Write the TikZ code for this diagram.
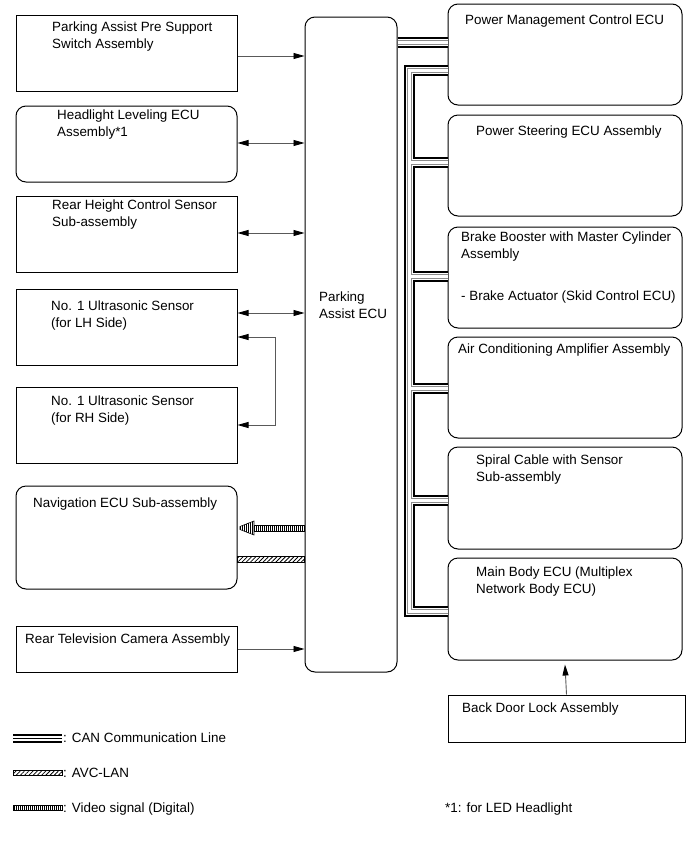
\documentclass[tikz,border=0pt]{standalone}
\usepackage{fontspec}
\setmainfont{Liberation Sans}
\usetikzlibrary{arrows.meta,patterns.meta}
\begin{document}
\begin{tikzpicture}[x=1pt,y=-1pt,
  every node/.style={font=\fontsize{13.4}{16.6}\selectfont},
  sqbox/.style={draw, line width=1pt, inner sep=0pt, minimum width=221pt},
  rbox/.style={sqbox, rounded corners=10pt},
  lbl/.style={anchor=north west, inner sep=0pt, align=left},
  conn/.style={line width=0.9pt, black!65},
  >={Triangle[length=11pt,width=6pt,color=black]},
  vid/.style={line width=0.6pt, pattern={Lines[angle=90,distance=2pt,line width=0.8pt]}},
  avc/.style={line width=0.6pt, pattern={Lines[angle=45,distance=3pt,line width=0.8pt]}},
]
\useasboundingbox (0,0) rectangle (691,855);

% left column
\node[sqbox, minimum height=76pt] (b1) at (126.5,53) {};
\node[rbox, minimum height=76pt] (b2) at (126.5,144) {};
\node[sqbox, minimum height=76pt] (b3) at (126.5,234) {};
\node[sqbox, minimum height=76pt] (b4) at (126.5,327) {};
\node[sqbox, minimum height=76pt] (b5) at (126.5,425) {};
\node[rbox, minimum height=103pt] (nav) at (126.5,537.5) {};
\node[sqbox, minimum height=46pt] (b7) at (126.5,649) {};
% ECU
\node[rbox, minimum width=92pt, minimum height=655pt] (ecu) at (351,344.5) {};
% right column
\node[rbox, minimum width=234pt, minimum height=101pt] (pm) at (565,54.5) {};
\node[rbox, minimum width=234pt, minimum height=101pt] (ps) at (565,165.5) {};
\node[rbox, minimum width=234pt, minimum height=101pt] (bb) at (565,277.5) {};
\node[rbox, minimum width=234pt, minimum height=101pt] (ac) at (565,387.5) {};
\node[rbox, minimum width=234pt, minimum height=102pt] (sc) at (565,498) {};
\node[rbox, minimum width=234pt, minimum height=102pt] (mb) at (565,609) {};
\node[sqbox, minimum width=237pt, minimum height=47pt] (bd) at (566.5,718.5) {};

% texts
\node[lbl] (t1) at (52,22) {Parking Assist Pre Support\\Switch Assembly};
\node[lbl] (t2) at (57,110) {Headlight Leveling ECU\\Assembly*1};
\node[lbl] (t3) at (52,200) {Rear Height Control Sensor\\Sub-assembly};
\node[lbl] (t4) at (51,301) {No. 1 Ultrasonic Sensor\\(for LH Side)};
\node[lbl] (t5) at (51,396) {No. 1 Ultrasonic Sensor\\(for RH Side)};
\node[lbl] (t6) at (33,498) {Navigation ECU Sub-assembly};
\node[lbl] (t7) at (25,634) {Rear Television Camera Assembly};
\node[lbl] (tecu) at (319,292) {Parking\\Assist ECU};
\node[lbl] (tpm) at (465,15) {Power Management Control ECU};
\node[lbl] (tps) at (476,126) {Power Steering ECU Assembly};
\node[lbl] (tbb) at (461,232) {Brake Booster with Master Cylinder\\Assembly};
\node[lbl] (tbb2) at (461,291) {- Brake Actuator (Skid Control ECU)};
\node[lbl] (tac) at (458,344) {Air Conditioning Amplifier Assembly};
\node[lbl] (tsc) at (476,455) {Spiral Cable with Sensor\\Sub-assembly};
\node[lbl] (tmb) at (476,567) {Main Body ECU (Multiplex\\Network Body ECU)};
\node[lbl] (tbd) at (462,703) {Back Door Lock Assembly};

% simple connectors
\draw[conn,->] (b1.east |- 0,56) -- (ecu.west |- 0,56);
\draw[conn,<->] (b2.east |- 0,143) -- (ecu.west |- 0,143);
\draw[conn,<->] (b3.east |- 0,233) -- (ecu.west |- 0,233);
\draw[conn,<->] (b4.east |- 0,313) -- (ecu.west |- 0,313);
\coordinate (brk) at (275,337);
\draw[conn,<->] (b4.east |- brk) -- (brk) -- (brk |- b5.east) -- (b5.east);
\draw[conn,->] (b7.east) -- (ecu.west |- b7.east);
\draw[conn,->] (bd.north) -- ([yshift=-4pt]mb.south);

% video signal (digital)
\coordinate (vb) at (254,525.5);
\draw[vid] (vb) rectangle (ecu.west |- 0,531);
\coordinate (vt) at (240,528);
\draw[vid] ([yshift=1.5pt]vt) -- (254,521) -- (254,535) -- ([yshift=-1.5pt]vt) -- cycle;
% AVC-LAN
\draw[avc] (nav.east |- 0,556.5) rectangle (ecu.west |- 0,562);

% CAN bus
\coordinate (tr1) at (409.5,70);
\coordinate (tr2) at (409.5,611);
\foreach \w/\c in {11/black,7/white,5/black!45,3/white}{
  \draw[line width=\w pt, \c] (ecu.east |- 0,42.5) -- (pm.west |- 0,42.5);
  \draw[line width=\w pt, \c, line join=miter] (pm.west |- tr1) -- (tr1) -- (tr2) -- (mb.west |- tr2);
  \foreach \yy/\nn in {162/ps,276/bb,388/ac,500/sc}
    \draw[line width=\w pt, \c] (tr1 |- 0,\yy) -- (\nn.west |- 0,\yy);
}

% legend
\coordinate (lc1) at (13,738);
\coordinate (lc2) at (62,738);
\draw[line width=9pt] (lc1) -- (lc2);
\draw[line width=5pt, white] (lc1) -- (lc2);
\draw[line width=1pt] (lc1) -- (lc2);
\node[lbl] (l1) at (63,733) {: CAN Communication Line};
\draw[avc] (13,770.5) rectangle (62,775.5);
\node[lbl] (l2) at (63,768) {: AVC-LAN};
\draw[vid] (13,805.5) rectangle (62,810.5);
\node[lbl] (l3) at (63,803) {: Video signal (Digital)};
\node[lbl] (l4) at (445,803) {*1: for LED Headlight};
\end{tikzpicture}
\end{document}
